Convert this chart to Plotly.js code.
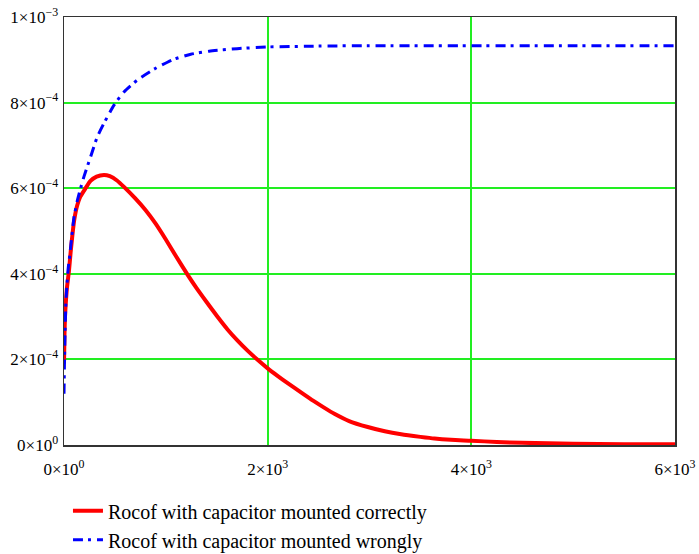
<!DOCTYPE html>
<html>
<head>
<meta charset="utf-8">
<script src="https://cdn.plot.ly/plotly-3.0.1.min.js"></script>
<style>
  html, body { margin: 0; padding: 0; background: #ffffff; }
  #chart { width: 699px; height: 554px; }
</style>
</head>
<body>
<div id="chart"></div>
<script>
// Time axis values and Rocof values
const timeCorrect = [0, 5, 10, 20, 30, 48, 65, 80, 100, 130, 160, 212, 260, 320, 393, 450, 520, 589, 700, 800, 900, 1000, 1100, 1213, 1300, 1400, 1500, 1606, 1700, 1800, 1901, 2000, 2100, 2200, 2327, 2450, 2550, 2655, 2800, 2983, 3150, 3311, 3500, 3638, 3800, 4000, 4250, 4500, 5000, 5500, 6000];
const rocofCorrect = [1.9e-4, 2.6e-4, 3.0e-4, 3.4e-4, 3.7e-4, 4.05e-4, 4.5e-4, 4.85e-4, 5.25e-4, 5.6e-4, 5.8e-4, 6.0e-4, 6.17e-4, 6.27e-4, 6.31e-4, 6.28e-4, 6.18e-4, 6.03e-4, 5.76e-4, 5.49e-4, 5.17e-4, 4.80e-4, 4.41e-4, 3.98e-4, 3.67e-4, 3.34e-4, 3.02e-4, 2.70e-4, 2.45e-4, 2.21e-4, 1.99e-4, 1.79e-4, 1.61e-4, 1.44e-4, 1.23e-4, 1.03e-4, 0.88e-4, 0.73e-4, 0.56e-4, 0.42e-4, 0.32e-4, 0.25e-4, 0.19e-4, 0.15e-4, 0.12e-4, 0.10e-4, 0.07e-4, 0.05e-4, 0.03e-4, 0.02e-4, 0.02e-4];

const timeWrong = [0, 5, 10, 20, 40, 60, 97, 130, 163, 196, 262, 327, 393, 491, 589, 721, 884, 1065, 1245, 1425, 1700, 2000, 2500, 3000, 4000, 5000, 6000];
const rocofWrong = [1.2e-4, 2.0e-4, 2.6e-4, 3.4e-4, 4.1e-4, 4.5e-4, 5.3e-4, 5.7e-4, 6.0e-4, 6.27e-4, 6.74e-4, 7.2e-4, 7.52e-4, 7.94e-4, 8.25e-4, 8.53e-4, 8.78e-4, 9.0e-4, 9.13e-4, 9.2e-4, 9.26e-4, 9.30e-4, 9.32e-4, 9.33e-4, 9.33e-4, 9.33e-4, 9.33e-4];

const seriesNames = ["Rocof with capacitor mounted correctly", "Rocof with capacitor mounted wrongly"];

const xTickVals = [0, 2000, 4000, 6000];
const xTickText = ["0×10<sup>0</sup>", "2×10<sup>3</sup>", "4×10<sup>3</sup>", "6×10<sup>3</sup>"];
const yTickVals = [0, 2e-4, 4e-4, 6e-4, 8e-4, 1e-3];
const yTickText = ["0×10<sup>0</sup>", "2×10<sup>−4</sup>", "4×10<sup>−4</sup>", "6×10<sup>−4</sup>", "8×10<sup>−4</sup>", "1×10<sup>−3</sup>"];

const serif = 'Liberation Serif, Times New Roman, DejaVu Serif, serif';

const traces = [
  {
    x: timeCorrect, y: rocofCorrect, name: seriesNames[0],
    type: 'scatter', mode: 'lines',
    line: { color: '#ff0000', width: 4, shape: 'spline', smoothing: 0.6 }
  },
  {
    x: timeWrong, y: rocofWrong, name: seriesNames[1],
    type: 'scatter', mode: 'lines',
    line: { color: '#0000ff', width: 3, dash: '10px,5px,3px,6px', shape: 'spline', smoothing: 0.6 }
  }
];

const layout = {
  width: 699, height: 554,
  margin: { l: 64, r: 24, t: 17, b: 109, autoexpand: false },
  paper_bgcolor: '#ffffff', plot_bgcolor: '#ffffff',
  font: { family: serif, size: 17, color: '#000000' },
  showlegend: true,
  legend: {
    orientation: 'v', x: 0.0065, xanchor: 'left', y: -0.108, yanchor: 'top',
    font: { family: serif, size: 20, color: '#000000' },
    bgcolor: 'rgba(0,0,0,0)'
  },
  xaxis: {
    range: [0, 6000], tickmode: 'array', tickvals: xTickVals, ticktext: xTickText,
    showgrid: true, gridcolor: '#22ee22', gridwidth: 2,
    zeroline: false, showline: true, linecolor: '#333333', linewidth: 1.5, mirror: true,
    ticks: '', ticklabelstandoff: 8, fixedrange: true,
    tickfont: { family: serif, size: 17, color: '#000000' }
  },
  yaxis: {
    range: [0, 1e-3], tickmode: 'array', tickvals: yTickVals, ticktext: yTickText,
    showgrid: true, gridcolor: '#22ee22', gridwidth: 2,
    zeroline: false, showline: true, linecolor: '#333333', linewidth: 1.5, mirror: true,
    ticks: '', ticklabelstandoff: 1, fixedrange: true,
    tickfont: { family: serif, size: 17, color: '#000000' }
  }
};

Plotly.newPlot('chart', traces, layout, { displayModeBar: false, staticPlot: true });
</script>
</body>
</html>
